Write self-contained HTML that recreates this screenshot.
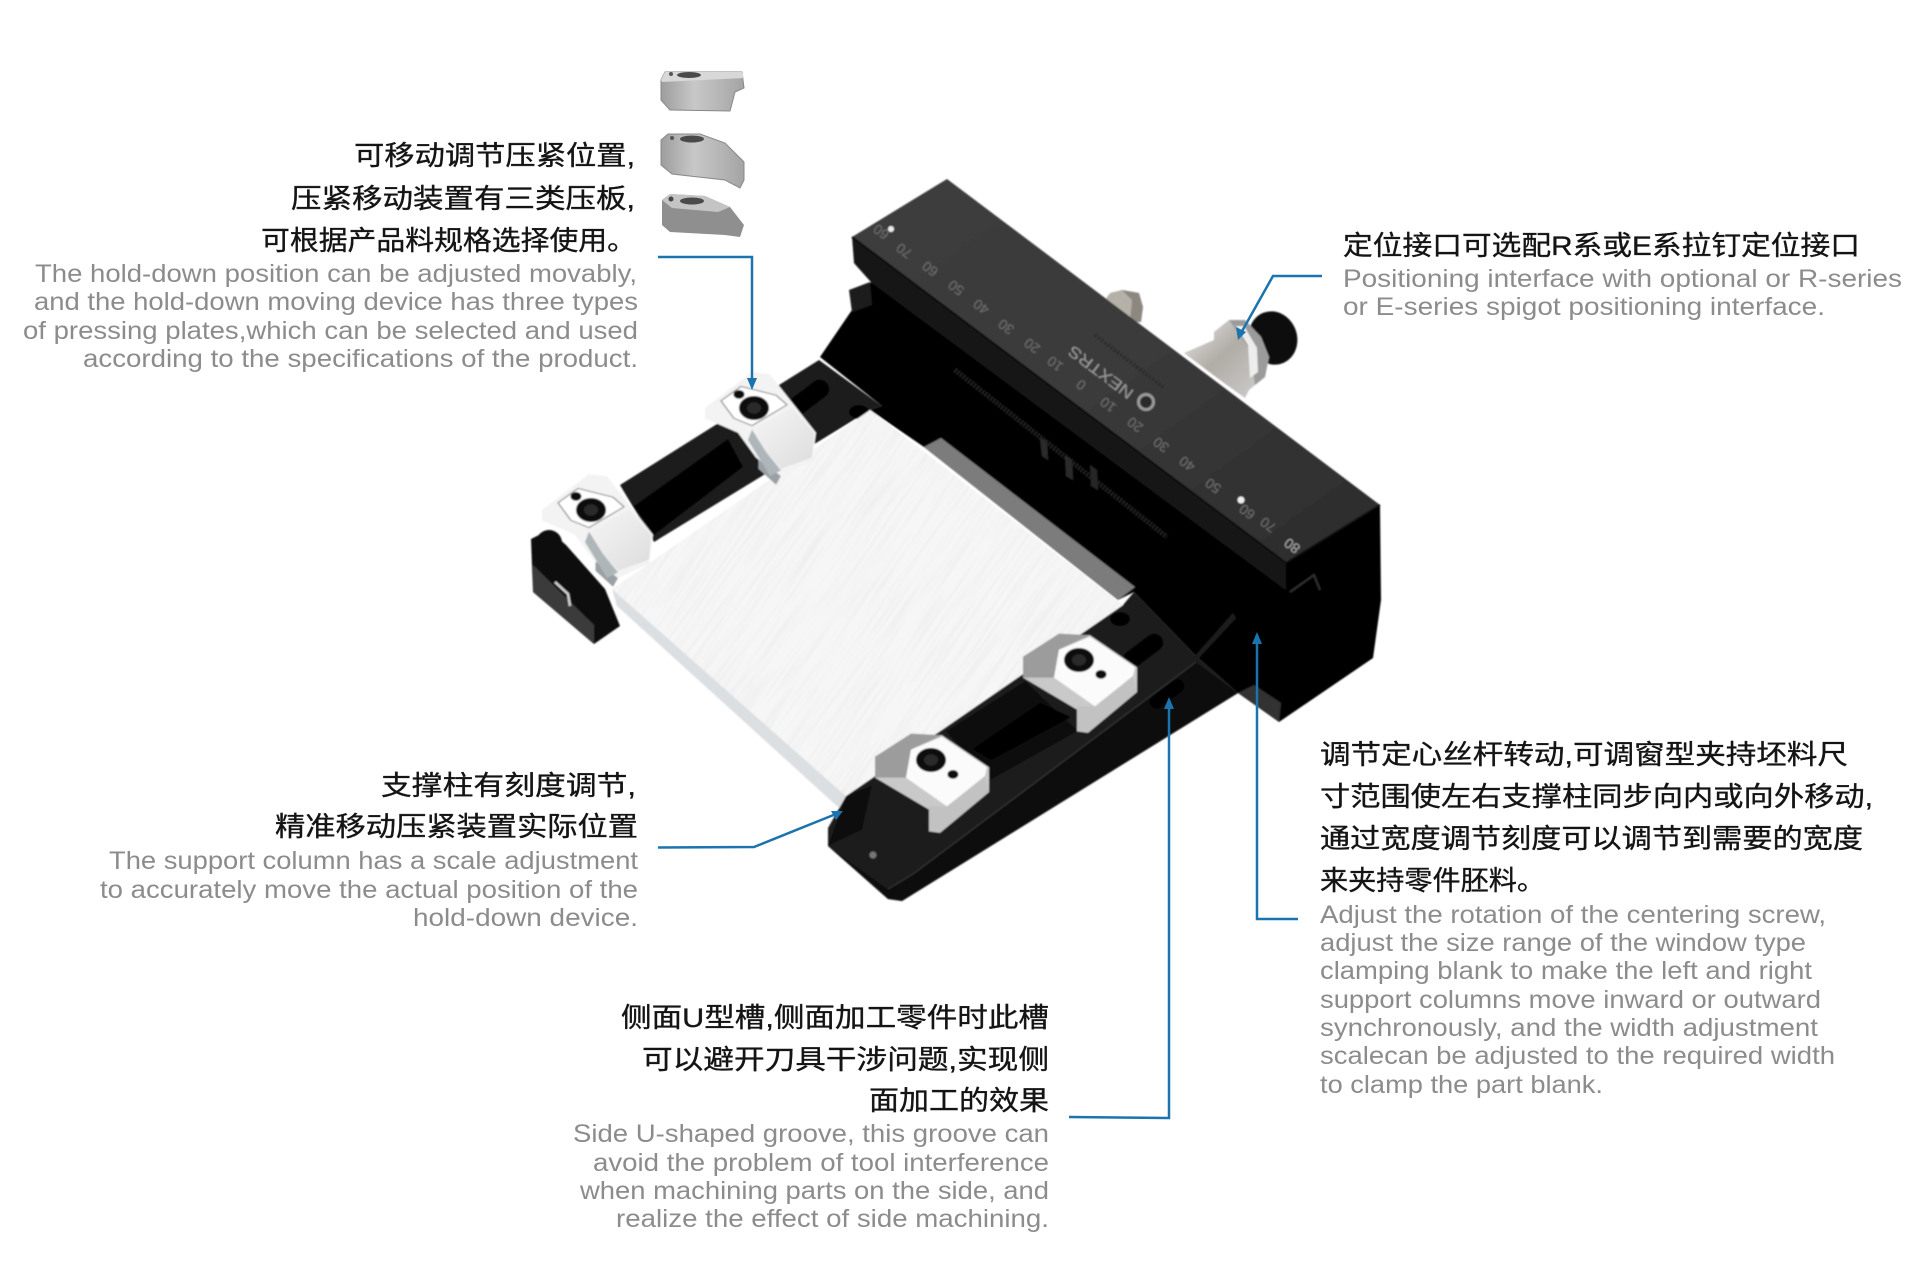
<!DOCTYPE html>
<html lang="zh"><head><meta charset="utf-8"><title>Diagram</title>
<style>
html,body{margin:0;padding:0;background:#fff;width:1920px;height:1280px;overflow:hidden}
svg{display:block}
.cn{font-family:"Liberation Sans","Noto Sans CJK SC",sans-serif;font-size:27px;fill:#141414;stroke:#141414;stroke-width:.35px}
.en{font-family:"Liberation Sans",sans-serif;font-size:25px;fill:#8c8c8c}
.sc{font-family:"Liberation Sans",sans-serif;font-size:14px;fill:#6f6f6f;text-anchor:middle}
</style></head><body>
<svg width="1920" height="1280" viewBox="0 0 1920 1280" xmlns="http://www.w3.org/2000/svg">
<defs>
<filter id="soft" x="-5%" y="-5%" width="110%" height="110%"><feGaussianBlur stdDeviation=".7"/></filter>
<linearGradient id="plate" x1="0" y1="0" x2="1" y2="1"><stop offset="0" stop-color="#3c3c3c"/><stop offset=".5" stop-color="#3a3a3a"/><stop offset="1" stop-color="#2b2b2b"/></linearGradient>
<linearGradient id="sil" x1="0" y1="0" x2="1" y2="1"><stop offset="0" stop-color="#e8e8e8"/><stop offset=".45" stop-color="#b0aca6"/><stop offset="1" stop-color="#d0d0d0"/></linearGradient>
<linearGradient id="sil2" x1="0" y1="0" x2="1" y2="0"><stop offset="0" stop-color="#9d9d9d"/><stop offset=".4" stop-color="#c8c8c8"/><stop offset="1" stop-color="#a4a4a4"/></linearGradient>
<linearGradient id="cw" x1="0" y1="0" x2="1" y2="1"><stop offset="0" stop-color="#f6f6f6"/><stop offset="1" stop-color="#dcdcdc"/></linearGradient>
<filter id="brush" x="0" y="0" width="100%" height="100%"><feTurbulence type="fractalNoise" baseFrequency="0.012 0.35" numOctaves="2" seed="4"/><feColorMatrix values="0 0 0 0 0.72 0 0 0 0 0.72 0 0 0 0 0.72 1.3 0 0 0 -0.55"/></filter>
<clipPath id="blk"><polygon points="870,410 1123,605 846,796 612,589"/></clipPath>
<g id="cb"><polygon points="4.5,62 27,85 22,96 4.5,76" fill="#9aa0a4"/>
<polygon points="-49,0 -2,-45 16,-42 62,31 58,67 27,85 2,62 -16,31 -49,13" fill="#f3f3f3"/>
<polygon points="-2,27 38,0 60,31 58,62 27,76 12,55" fill="url(#cw)"/>
<polygon points="-2,27 12,55 27,78 16,85 -6,40" fill="#aeb6ba"/>
<polygon points="-33,-9 -13,-27 22,-16 33,-4 -2,22 -20,13" fill="#fff" stroke="#9a9a9a" stroke-width="1.5" stroke-linejoin="round"/>
<circle cx="0" cy="0" r="15" fill="#0c0c0c"/><circle cx="0" cy="0" r="7" fill="#2c2c2c"/><circle cx="-15" cy="-17" r="5.5" fill="#111"/></g>
<g id="cf"><polygon points="-56,-4 -20,-33 11,-31 58,9 58,40 9,91 -2,89 -2,62 -56,22" fill="#c9c9c9"/>
<polygon points="-56,-4 -20,-33 11,-31 -20,-13 -25,22 -56,22" fill="#9c9c9c"/>
<polygon points="-20,-13 11,-29 56,9 54,20 16,58 -25,22" fill="#fbfbfb"/>
<polygon points="16,58 54,20 58,40 9,91 -2,89 -2,58" fill="#c2c2c2"/>
<circle cx="0" cy="0" r="15" fill="#0c0c0c"/><circle cx="0" cy="0" r="7" fill="#2c2c2c"/><circle cx="22" cy="18" r="5.5" fill="#111"/></g>
</defs>
<rect width="1920" height="1280" fill="#fff"/>

<!-- spare plates -->
<polygon points="661,80 665,72 742,72 744,88 735,92 730,111 670,110 661,100" fill="url(#sil2)" stroke="#888" stroke-width="1"/>
<polygon points="661,80 665,72 742,72 744,78 662,82" fill="#d8d8d8"/>
<ellipse cx="689" cy="75" rx="12" ry="3" fill="#4a4a4a"/><circle cx="671" cy="74" r="2" fill="#555"/>
<polygon points="661,140 668,134 700,134 725,143 744,162 744,180 740,188 725,180 672,174 661,165" fill="url(#sil2)" stroke="#888" stroke-width="1"/>
<ellipse cx="692" cy="139" rx="12" ry="3.5" fill="#4a4a4a"/><circle cx="672" cy="138" r="2" fill="#555"/>
<polygon points="662,200 670,194 705,196 730,207 744,225 740,237 725,235 670,232 662,225" fill="#8f8f8f"/>
<polygon points="662,200 670,194 705,196 730,207 718,212 672,208" fill="#c4c4c4"/>
<ellipse cx="692" cy="201" rx="12" ry="3.5" fill="#4a4a4a"/><circle cx="671" cy="199" r="2.5" fill="#444"/>

<g filter="url(#soft)">
<!-- left end block -->
<polygon points="531,539 549,530 566,545 605,589 620,626 594,644 533,592" fill="#0d0d0d"/>
<polygon points="533,565 594,625 594,644 533,592" fill="#3a3a3a"/>
<circle cx="549" cy="543" r="13" fill="#0a0a0a"/>
<polyline points="555,582 568,594 570,606" fill="none" stroke="#cfcfcf" stroke-width="2.5"/>

<!-- back rail -->
<polygon points="620,485 779,385 819,360 882,406 870,410 654,542" fill="#1c1c1c"/>
<polygon points="634,506 728,439 743,467 654,535" fill="#030303"/>
<rect x="782" y="389" width="50" height="19" rx="9.5" transform="rotate(-37 807 398)" fill="#050505"/>
<ellipse cx="859" cy="412" rx="10" ry="7" fill="#050505"/>

<!-- front rail -->
<polygon points="1123,605 1134,592 1196,656 1238,693 902,901 888,899 828,846 828,828 846,796" fill="#1c1c1c"/>
<polygon points="888,889 913,874 1196,662 1238,693 902,901 888,899 828,846" fill="#101010"/>
<polyline points="888,889 913,874 1196,662" fill="none" stroke="#383838" stroke-width="1"/>
<polygon points="946,731 1025,681 1078,731 989,781" fill="#0a0a0a"/>
<polygon points="973,749 1040,703 1071,717 991,760" fill="#020202"/>
<rect x="1120" y="642" width="46" height="18" rx="9" transform="rotate(-37 1143 651)" fill="#050505"/>
<ellipse cx="1120" cy="619" rx="10" ry="7" fill="#050505"/>
<rect x="1147" y="687" width="40" height="14" rx="7" transform="rotate(-37 1167 694)" fill="#020202"/>
<polygon points="828,846 846,796 872,785 862,830" fill="#0a0a0a"/>
<circle cx="873" cy="855" r="3.5" fill="#777"/>

<!-- connectors behind plate -->
<polygon points="1105,300 1110,293 1122,290 1139,293 1143,307 1141,322 1110,322" fill="#b5b0a8"/>
<polygon points="1122,290 1139,293 1143,307 1141,322 1130,322 1132,300" fill="#8c8880"/>
<ellipse cx="1273" cy="338" rx="24" ry="27" transform="rotate(-20 1273 338)" fill="#0a0a0a"/>
<polygon points="1184,353 1214,340 1214,332 1229,320 1245,320 1261,337 1269,357 1265,377 1249,390 1245,398 1224,383" fill="url(#sil)"/>
<polygon points="1229,320 1245,320 1261,337 1269,357 1265,377 1255,385 1250,350" fill="#9b9b9b"/>
<polygon points="1236,326 1244,326 1257,348 1258,372 1250,378 1248,345" fill="#ededed"/>

<!-- black body -->
<polygon points="871,282 820,357 882,406 870,410 924,447 1118,600 1134,592 1196,656 1238,693 1279,722 1373,658 1381,600 1380,505 1286,563 854,263" fill="#050505"/>
<polygon points="1238,693 1279,722 1281,703 1254,685" fill="#333"/>
<polygon points="1233,613 1194,657 1196,661 1236,618" fill="#1c1c1c"/>
<polygon points="941,438 924,447 1118,600 1135,587" fill="#7b7b7b"/>
<polyline points="955,370 1167,537" stroke="#262626" stroke-width="5" stroke-dasharray="1.5 2" fill="none"/>
<polygon points="1040,438 1047,441 1048,460 1042,456" fill="#2a2a2a"/><polygon points="1065,455 1072,460 1073,480 1066,476" fill="#2a2a2a"/><polygon points="1090,465 1097,470 1098,490 1091,486" fill="#262626"/>
<polygon points="849,290 870,282 872,305 852,312" fill="#1a1a1a"/>
<polyline points="1290,592 1314,575 1320,590" fill="none" stroke="#2e2e2e" stroke-width="2"/>

<!-- top plate -->
<polygon points="852,237 854,263 871,282 1286,590 1286,563" fill="#161616"/>
<polygon points="947,179 1380,505 1286,563 852,237" fill="url(#plate)"/>
<polyline points="852,237 1286,563 1380,505" fill="none" stroke="#0b0b0b" stroke-width="2"/>
<circle cx="891" cy="229" r="3" fill="#eee"/><circle cx="1241" cy="500" r="3.5" fill="#eee"/>
<g class="scale">
<text class="sc" transform="translate(884,228) rotate(217)">60</text>
<text class="sc" transform="translate(907,247) rotate(217)">70</text>
<text class="sc" transform="translate(933,265) rotate(217)">60</text>
<text class="sc" transform="translate(959,284) rotate(217)">50</text>
<text class="sc" transform="translate(984,303) rotate(217)">40</text>
<text class="sc" transform="translate(1009,323) rotate(217)">30</text>
<text class="sc" transform="translate(1035,342) rotate(217)">20</text>
<text class="sc" transform="translate(1058,360) rotate(217)">10</text>
<text class="sc" transform="translate(1084,381) rotate(217)">0</text>
<text class="sc" transform="translate(1111,401) rotate(217)">10</text>
<text class="sc" transform="translate(1138,421) rotate(217)">20</text>
<text class="sc" transform="translate(1164,441) rotate(217)">30</text>
<text class="sc" transform="translate(1190,460) rotate(217)">40</text>
<text class="sc" transform="translate(1216,482) rotate(217)">50</text>
<text class="sc" transform="translate(1250,508) rotate(217)">60</text>
<text class="sc" transform="translate(1271,521) rotate(217)">70</text>
<text class="sc" transform="translate(1295,542) rotate(217)" style="fill:#aaa">80</text>
<text class="sc" transform="translate(1104,368) rotate(217)" style="font-size:16px;fill:#999" textLength="77" lengthAdjust="spacingAndGlyphs">NEXTRS</text>
<line x1="1095" y1="335" x2="1163" y2="387" stroke="#2a2a2a" stroke-width="4" stroke-dasharray="2 2"/>
<circle cx="1146" cy="402" r="9" fill="#9a9a9a"/><circle cx="1146" cy="402" r="6" fill="#2a2a2a"/>
</g>

<!-- white blank -->
<polygon points="612,589 846,796 839,808 617,606" fill="#dcdfe1"/>
<polygon points="870,410 1123,605 846,796 612,589" fill="#f6f6f6"/>
<g clip-path="url(#blk)"><rect x="400" y="200" width="1000" height="800" filter="url(#brush)" transform="rotate(-55 870 600)" opacity=".55"/></g>

<!-- clamps -->
<use href="#cb" transform="translate(754 408) scale(1 .8)"/>
<use href="#cb" transform="translate(591 510) scale(1 .8)"/>
<use href="#cf" transform="translate(931 760) scale(1 .8)"/>
<use href="#cf" transform="translate(1079 660) scale(1 .8)"/>
</g>

<!-- connectors -->
<g fill="none" stroke="#1b74ad" stroke-width="2.5">
<polyline points="658,257 752,257 752,382"/>
<polyline points="1322,276 1273,276 1241,333"/>
<polyline points="658,847.5 754,847 836,814"/>
<polyline points="1069,1117 1169,1118 1169,705"/>
<polyline points="1298,919 1257,919 1257,640"/>
</g>
<g fill="#1b74ad">
<polygon points="752,390 747,378 757,378"/>
<polygon points="1238,340 1236,327 1246,332"/>
<polygon points="843,811 831,811 836,820"/>
<polygon points="1169,697 1164,709 1174,709"/>
<polygon points="1257,632 1252,644 1262,644"/>
</g>

<!-- text -->
<text class="cn" x="354" y="165" textLength="281" lengthAdjust="spacingAndGlyphs">可移动调节压紧位置,</text>
<text class="cn" x="291" y="208" textLength="344" lengthAdjust="spacingAndGlyphs">压紧移动装置有三类压板,</text>
<text class="cn" x="261" y="250" textLength="375" lengthAdjust="spacingAndGlyphs">可根据产品料规格选择使用。</text>
<text class="en" x="35" y="282" textLength="602" lengthAdjust="spacingAndGlyphs">The hold-down position can be adjusted movably,</text>
<text class="en" x="34" y="310" textLength="604" lengthAdjust="spacingAndGlyphs">and the hold-down moving device has three types</text>
<text class="en" x="23" y="339" textLength="615" lengthAdjust="spacingAndGlyphs">of pressing plates,which can be selected and used</text>
<text class="en" x="83" y="367" textLength="555" lengthAdjust="spacingAndGlyphs">according to the specifications of the product.</text>

<text class="cn" x="381" y="795" textLength="255" lengthAdjust="spacingAndGlyphs">支撑柱有刻度调节,</text>
<text class="cn" x="275" y="836" textLength="363" lengthAdjust="spacingAndGlyphs">精准移动压紧装置实际位置</text>
<text class="en" x="109" y="869" textLength="529" lengthAdjust="spacingAndGlyphs">The support column has a scale adjustment</text>
<text class="en" x="100" y="898" textLength="538" lengthAdjust="spacingAndGlyphs">to accurately move the actual position of the</text>
<text class="en" x="413" y="926" textLength="225" lengthAdjust="spacingAndGlyphs">hold-down device.</text>

<text class="cn" x="621" y="1027" textLength="428" lengthAdjust="spacingAndGlyphs">侧面U型槽,侧面加工零件时此槽</text>
<text class="cn" x="642" y="1069" textLength="407" lengthAdjust="spacingAndGlyphs">可以避开刀具干涉问题,实现侧</text>
<text class="cn" x="869" y="1110" textLength="180" lengthAdjust="spacingAndGlyphs">面加工的效果</text>
<text class="en" x="573" y="1142" textLength="476" lengthAdjust="spacingAndGlyphs">Side U-shaped groove, this groove can</text>
<text class="en" x="593" y="1171" textLength="456" lengthAdjust="spacingAndGlyphs">avoid the problem of tool interference</text>
<text class="en" x="580" y="1199" textLength="469" lengthAdjust="spacingAndGlyphs">when machining parts on the side, and</text>
<text class="en" x="616" y="1227" textLength="433" lengthAdjust="spacingAndGlyphs">realize the effect of side machining.</text>

<text class="cn" x="1343" y="255" textLength="517" lengthAdjust="spacingAndGlyphs">定位接口可选配R系或E系拉钉定位接口</text>
<text class="en" x="1343" y="287" textLength="559" lengthAdjust="spacingAndGlyphs">Positioning interface with optional or R-series</text>
<text class="en" x="1343" y="315" textLength="482" lengthAdjust="spacingAndGlyphs">or E-series spigot positioning interface.</text>

<text class="cn" x="1320" y="764" textLength="528" lengthAdjust="spacingAndGlyphs">调节定心丝杆转动,可调窗型夹持坯料尺</text>
<text class="cn" x="1320" y="806" textLength="553" lengthAdjust="spacingAndGlyphs">寸范围使左右支撑柱同步向内或向外移动,</text>
<text class="cn" x="1320" y="848" textLength="543" lengthAdjust="spacingAndGlyphs">通过宽度调节刻度可以调节到需要的宽度</text>
<text class="cn" x="1320" y="890" textLength="225" lengthAdjust="spacingAndGlyphs">来夹持零件胚料。</text>
<text class="en" x="1320" y="923" textLength="506" lengthAdjust="spacingAndGlyphs">Adjust the rotation of the centering screw,</text>
<text class="en" x="1320" y="951" textLength="486" lengthAdjust="spacingAndGlyphs">adjust the size range of the window type</text>
<text class="en" x="1320" y="979" textLength="492" lengthAdjust="spacingAndGlyphs">clamping blank to make the left and right</text>
<text class="en" x="1320" y="1008" textLength="501" lengthAdjust="spacingAndGlyphs">support columns move inward or outward</text>
<text class="en" x="1320" y="1036" textLength="498" lengthAdjust="spacingAndGlyphs">synchronously, and the width adjustment</text>
<text class="en" x="1320" y="1064" textLength="515" lengthAdjust="spacingAndGlyphs">scalecan be adjusted to the required width</text>
<text class="en" x="1320" y="1093" textLength="283" lengthAdjust="spacingAndGlyphs">to clamp the part blank.</text>
</svg>
</body></html>
